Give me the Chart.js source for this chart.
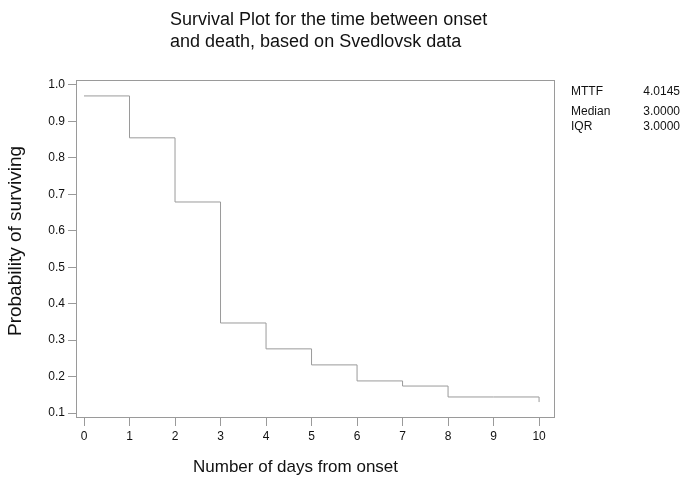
<!DOCTYPE html>
<html>
<head>
<meta charset="utf-8">
<script src="https://cdn.jsdelivr.net/npm/chart.js@4/dist/chart.umd.min.js"></script>
<style>
  html, body { margin: 0; padding: 0; background: #fff; }
  #wrap { width: 683px; height: 479px; }
</style>
</head>
<body>
<div id="wrap"><canvas id="survChart"></canvas></div>
<script>
const days = [0, 1, 2, 3, 4, 5, 6, 7, 8, 9, 10];
const survival = [0.970, 0.855, 0.679, 0.347, 0.276, 0.232, 0.188, 0.174, 0.144, 0.144, 0.130];
const yTicks = [0.1, 0.2, 0.3, 0.4, 0.5, 0.6, 0.7, 0.8, 0.9, 1.0];
const statNames = ["MTTF", "Median", "IQR"];
const statValues = ["4.0145", "3.0000", "3.0000"];
const titleLines = ["Survival Plot for the time between onset", "and death, based on Svedlovsk data"];
const xTitle = "Number of days from onset";
const yTitle = "Probability of surviving";

const FONT = "'Liberation Sans', Arial, Helvetica, sans-serif";
const GRAY = "#9a9a9a";

// frame, titles and the stats block
const extras = {
  id: "extras",
  afterDraw(chart) {
    const ctx = chart.ctx, a = chart.chartArea;
    ctx.save();
    ctx.strokeStyle = GRAY;
    ctx.lineWidth = 1;
    ctx.strokeRect(a.left + 0.5, a.top + 0.5, a.right - a.left - 1, a.bottom - a.top - 1);

    ctx.fillStyle = "#111";
    ctx.textBaseline = "middle";
    ctx.textAlign = "left";
    ctx.font = "18px " + FONT;
    titleLines.forEach((t, i) => ctx.fillText(t, 170, 20 + i * 22));

    ctx.font = "17px " + FONT;
    ctx.fillText(xTitle, 193, 467);

    ctx.save();
    ctx.translate(16, 241);
    ctx.rotate(-Math.PI / 2);
    ctx.textAlign = "center";
    ctx.font = "19px " + FONT;
    ctx.fillText(yTitle, 0, 0);
    ctx.restore();

    ctx.font = "12px " + FONT;
    const ys = [92, 112, 127];
    statNames.forEach((n, i) => {
      ctx.textAlign = "left";
      ctx.fillText(n, 571, ys[i]);
      ctx.textAlign = "right";
      ctx.fillText(statValues[i], 680, ys[i]);
    });
    ctx.restore();
  }
};

new Chart(document.getElementById("survChart"), {
  type: "line",
  data: {
    datasets: [{
      data: days.map((d, i) => ({ x: d, y: survival[i] })),
      stepped: "before",
      borderColor: GRAY,
      borderWidth: 1,
      pointRadius: 0,
      fill: false
    }]
  },
  options: {
    responsive: true,
    maintainAspectRatio: false,
    animation: false,
    layout: { padding: { top: 80, right: 128, left: 0, bottom: 0 } },
    plugins: { legend: { display: false }, tooltip: { enabled: false }, title: { display: false } },
    scales: {
      x: {
        type: "linear",
        min: -0.176,
        max: 10.35,
        afterFit: s => { s.height = 61; },
        afterBuildTicks: s => { s.ticks = days.map(v => ({ value: v })); },
        grid: { drawOnChartArea: false, color: GRAY, tickLength: 8 },
        border: { display: false },
        ticks: { color: "#111", font: { family: FONT, size: 12 }, padding: 3 }
      },
      y: {
        min: 0.0863,
        max: 1.0137,
        afterFit: s => { s.width = 76; },
        afterBuildTicks: s => { s.ticks = yTicks.map(v => ({ value: v })); },
        grid: { drawOnChartArea: false, color: GRAY, tickLength: 8 },
        border: { display: false },
        ticks: { color: "#111", font: { family: FONT, size: 12 }, padding: 3,
                 callback: v => v.toFixed(1) }
      }
    }
  },
  plugins: [extras]
});
</script>
</body>
</html>
